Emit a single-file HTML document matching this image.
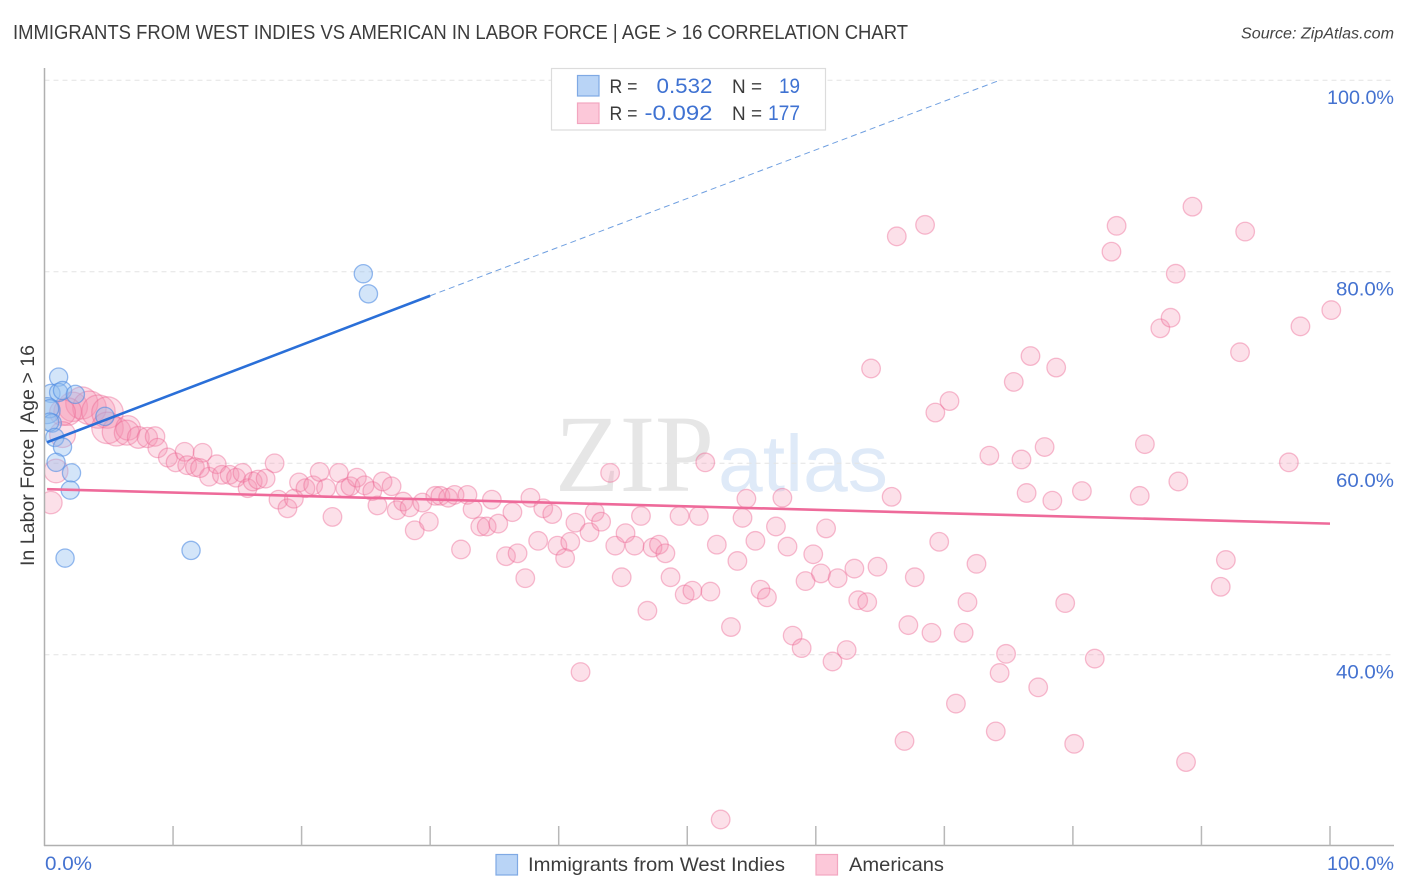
<!DOCTYPE html>
<html lang="en">
<head>
<meta charset="utf-8">
<title>Immigrants from West Indies vs American In Labor Force | Age &gt; 16 Correlation Chart</title>
<style>
  html, body { margin: 0; padding: 0; background: #fff; }
  #chart { display: block; font-family: "Liberation Sans", sans-serif; }
</style>
</head>
<body>
<svg id="chart" width="1406" height="892" viewBox="0 0 1406 892" xmlns="http://www.w3.org/2000/svg">
  <defs>
    <clipPath id="plot-clip"><rect x="45" y="60" width="1349" height="785"></rect></clipPath>
  </defs>
  <rect x="0" y="0" width="1406" height="892" fill="#ffffff"></rect>

  <text x="13" y="39" font-size="20" fill="#3c3c3c" textLength="895" lengthAdjust="spacingAndGlyphs">IMMIGRANTS FROM WEST INDIES VS AMERICAN IN LABOR FORCE | AGE &gt; 16 CORRELATION CHART</text>
  <text x="1394" y="38.5" font-size="15.5" font-style="italic" fill="#444444" text-anchor="end" textLength="153" lengthAdjust="spacingAndGlyphs">Source: ZipAtlas.com</text>

  <g>
    <text x="555" y="491" font-family="'Liberation Serif', serif" font-size="110" fill="#e6e6e6" textLength="159" lengthAdjust="spacingAndGlyphs">ZIP</text>
    <text x="718" y="491" font-size="80" fill="#dfeaf8" textLength="170" lengthAdjust="spacingAndGlyphs">atlas</text>
  </g>

  <g id="grid"></g>
  <g id="marks" clip-path="url(#plot-clip)"></g>
  <g id="trends" clip-path="url(#plot-clip)"></g>

  <line x1="44.5" y1="68" x2="44.5" y2="846" stroke="#b0b0b0" stroke-width="1.5"></line>
  <line x1="44" y1="845.5" x2="1394" y2="845.5" stroke="#b0b0b0" stroke-width="1.5"></line>
  <g id="xticks"></g>
  <g id="ylabels"></g>

  <text x="45" y="870" font-size="19.5" fill="#4472d0" textLength="47" lengthAdjust="spacingAndGlyphs">0.0%</text>
  <text x="1394" y="870" font-size="19.5" fill="#4472d0" text-anchor="end" textLength="67" lengthAdjust="spacingAndGlyphs">100.0%</text>

  <text transform="translate(34,566) rotate(-90)" font-size="19.5" fill="#3c3c3c" textLength="221" lengthAdjust="spacingAndGlyphs">In Labor Force | Age &gt; 16</text>

  <g>
    <rect x="551.5" y="68.5" width="274" height="61.5" fill="#ffffff" stroke="#dcdcdc" stroke-width="1.2"></rect>
    <rect x="577.5" y="75.5" width="21.5" height="20.5" fill="#b9d4f6" stroke="#7fa9e4" stroke-width="1.2"></rect>
    <rect x="577.5" y="103" width="21.5" height="20.5" fill="#fcc8d9" stroke="#f2a6c0" stroke-width="1.2"></rect>
    <text x="609.5" y="93" font-size="19.5" fill="#3c3c3c" textLength="28" lengthAdjust="spacingAndGlyphs">R =</text>
    <text x="712.5" y="93" font-size="21" fill="#3f72d2" text-anchor="end" textLength="56" lengthAdjust="spacingAndGlyphs">0.532</text>
    <text x="732" y="93" font-size="19.5" fill="#3c3c3c" textLength="30" lengthAdjust="spacingAndGlyphs">N =</text>
    <text x="800" y="93" font-size="21" fill="#3f72d2" text-anchor="end" textLength="21" lengthAdjust="spacingAndGlyphs">19</text>
    <text x="609.5" y="120" font-size="19.5" fill="#3c3c3c" textLength="28" lengthAdjust="spacingAndGlyphs">R =</text>
    <text x="712.5" y="120" font-size="21" fill="#3f72d2" text-anchor="end" textLength="68" lengthAdjust="spacingAndGlyphs">-0.092</text>
    <text x="732" y="120" font-size="19.5" fill="#3c3c3c" textLength="30" lengthAdjust="spacingAndGlyphs">N =</text>
    <text x="800" y="120" font-size="21" fill="#3f72d2" text-anchor="end" textLength="32" lengthAdjust="spacingAndGlyphs">177</text>
  </g>

  <g>
    <rect x="496" y="854.5" width="21.5" height="20.5" fill="#b9d4f6" stroke="#7fa9e4" stroke-width="1.2"></rect>
    <text x="528" y="871" font-size="19.5" fill="#3c3c3c" textLength="257" lengthAdjust="spacingAndGlyphs">Immigrants from West Indies</text>
    <rect x="816" y="854.5" width="21.5" height="20.5" fill="#fcc8d9" stroke="#f2a6c0" stroke-width="1.2"></rect>
    <text x="849" y="871" font-size="19.5" fill="#3c3c3c" textLength="95" lengthAdjust="spacingAndGlyphs">Americans</text>
  </g>
</svg>

<script>
const xTickValues = [10, 20, 30, 40, 50, 60, 70, 80, 90, 100];
const yTickValues = [100, 80, 60, 40];
const yTickLabels = ["100.0%", "80.0%", "60.0%", "40.0%"];

const blueX = [1.1, 0.5, 1.1, 1.4, 0.2, 0.4, 0.6, 0.4, 0.8, 1.4, 0.9, 2.1, 2.0, 1.6, 11.4, 2.4, 4.7, 24.8, 25.2];
const blueY = [69.0, 67.3, 67.4, 67.6, 65.5, 65.7, 64.2, 64.3, 62.7, 61.7, 60.1, 59.0, 57.2, 50.1, 50.9, 67.2, 64.9, 79.8, 77.7];

const pinkX = [2.2, 2.9, 3.5, 4.2, 1.8, 1.4, 4.9, 4.9, 5.6, 6.5, 6.4, 7.3, 8.0, 8.6, 8.8, 9.6, 10.2, 10.9, 11.1, 11.7,
  12.3, 12.8, 13.4, 13.8, 14.4, 14.9, 15.4, 15.8, 16.2, 16.6, 17.2, 17.9, 18.2, 18.9, 19.4, 19.8, 20.3, 20.9, 21.4, 21.9,
  22.4, 22.9, 23.4, 23.8, 24.3, 24.9, 25.5, 25.9, 26.3, 27.0, 27.4, 27.9, 28.4, 29.4, 28.8, 29.9, 30.4, 30.8, 31.4, 31.9,
  32.9, 33.3, 34.8, 32.4, 33.9, 34.4, 35.3, 36.4, 37.8, 38.8, 39.5, 38.4, 35.9, 36.8, 37.4, 39.9, 40.9, 40.5, 41.3, 42.4,
  42.8, 43.3, 44.0, 44.4, 45.2, 45.9, 44.9, 46.4, 49.4, 50.9, 51.4, 54.6, 57.4, 54.3, 65.9, 47.3, 47.8, 48.3, 48.7, 52.3,
  55.3, 56.9, 57.8, 60.8, 53.9, 59.8, 59.2, 60.4, 61.7, 63.0, 64.8, 55.7, 56.2, 49.8, 50.4, 51.8, 46.9, 53.4, 63.3, 64.0,
  58.2, 58.9, 61.3, 62.4, 67.2, 69.0, 71.5, 67.7, 72.5, 69.6, 71.8, 74.8, 74.3, 77.3, 70.9, 74.0, 66.9, 80.1, 88.8, 52.6,
  41.7, 81.7, 79.4, 91.5, 91.9, 88.2, 85.2, 96.8, 80.7, 78.4, 76.4, 76.0, 77.8, 73.5, 85.6, 69.3, 70.4, 64.3, 75.4, 76.7,
  78.7, 93.0, 86.8, 87.6, 97.7, 100.1, 88.0, 83.0, 83.4, 89.3, 93.4, 66.3, 68.5, 0.9, 0.5, 1.4, 12.1];
const pinkY = [65.9, 66.3, 65.8, 65.4, 65.4, 65.3, 65.3, 63.7, 63.3, 63.7, 63.2, 62.7, 62.7, 62.8, 61.6, 60.6, 60.1, 61.2, 59.8, 59.6,
  61.1, 58.6, 59.9, 58.8, 58.8, 58.5, 59.0, 57.4, 58.1, 58.3, 58.4, 60.0, 56.2, 55.3, 56.3, 58.0, 57.4, 57.7, 59.1, 57.4,
  54.4, 59.0, 57.4, 57.6, 58.5, 57.7, 57.1, 55.6, 58.1, 57.6, 55.1, 56.0, 55.4, 55.9, 53.0, 53.9, 56.6, 56.6, 56.4, 56.7,
  56.7, 55.2, 56.2, 51.0, 53.4, 53.4, 53.7, 54.9, 56.4, 55.3, 54.7, 51.9, 50.3, 50.6, 48.0, 51.4, 51.8, 50.1, 53.8, 52.8,
  54.9, 53.9, 59.0, 51.4, 52.7, 51.4, 48.1, 54.5, 54.5, 54.5, 60.1, 56.3, 56.4, 54.3, 56.5, 51.2, 51.5, 50.6, 48.1, 51.5,
  51.9, 53.4, 51.3, 53.2, 49.8, 50.5, 47.7, 48.5, 48.0, 49.0, 49.2, 46.8, 46.0, 46.3, 46.7, 46.6, 44.6, 42.9, 45.7, 45.5,
  42.0, 40.7, 39.3, 40.5, 43.1, 42.3, 42.3, 48.1, 49.5, 51.8, 45.5, 40.1, 38.1, 36.6, 34.9, 32.0, 31.0, 30.7, 28.8, 22.8,
  38.2, 39.6, 45.4, 47.1, 49.9, 58.1, 56.6, 60.1, 57.1, 56.1, 56.9, 60.4, 61.7, 60.8, 62.0, 65.3, 66.5, 69.9, 68.5, 71.2,
  70.0, 71.6, 74.1, 75.2, 74.3, 76.0, 79.8, 82.1, 84.8, 86.8, 84.2, 83.7, 84.9, 59.2, 55.9, 63.0, 59.5];

const blueTrendX = [0.2, 30];
const blueTrendY = [62.2, 77.5];
const blueForecastX = [30, 74.3];
const blueForecastY = [77.5, 100];
const pinkTrendX = [0.2, 100];
const pinkTrendY = [57.3, 53.7];

const SVG_NS = "http://www.w3.org/2000/svg";
function xScale(v) { return 44.5 + v * 12.855; }
function yScale(v) { return 654.8 - (v - 40) * 9.575; }
function make(tag, attrs) {
  const el = document.createElementNS(SVG_NS, tag);
  Object.keys(attrs).forEach(function (k) { el.setAttribute(k, attrs[k]); });
  return el;
}
function pinkRadius(x) { const t = (x - 3.8) / 2.8; return 9.3 + 7.5 * Math.exp(-t * t); }
function blueRadius(x) { return x < 0.3 ? 13 : 9.1; }
function labelWidth(text) { return text.length === 6 ? 67 : 58; }

const gridLayer = document.getElementById("grid");
yTickValues.forEach(function (v) {
  const el = make("line", { x1: 44.5, x2: 1394, y1: yScale(v), y2: yScale(v), stroke: "#e4e4e4", "stroke-width": 1, "stroke-dasharray": "5 4" });
  
  
  gridLayer.appendChild(el);
});

const tickLayer = document.getElementById("xticks");
xTickValues.forEach(function (v) {
  const el = make("line", { x1: xScale(v), x2: xScale(v), y1: 826, y2: 845.5, stroke: "#b8b8b8", "stroke-width": 1.5 });
  
  
  tickLayer.appendChild(el);
});

const labelLayer = document.getElementById("ylabels");
yTickValues.forEach(function (v, i) {
  const el = make("text", { x: 1394, y: yScale(v) + 23.5, "font-size": 19.5, fill: "#4472d0", "text-anchor": "end", textLength: labelWidth(yTickLabels[i]), lengthAdjust: "spacingAndGlyphs" });
  
  
  el.textContent = yTickLabels[i];
  labelLayer.appendChild(el);
});

const markLayer = document.getElementById("marks");
pinkX.forEach(function (x, i) {
  const el = make("circle", { cx: xScale(x), cy: yScale(pinkY[i]), r: pinkRadius(x), fill: "rgba(244,143,177,0.28)", stroke: "rgba(236,100,146,0.42)", "stroke-width": 1.3 });
  
  
  markLayer.appendChild(el);
});
blueX.forEach(function (x, i) {
  const el = make("circle", { cx: xScale(x), cy: yScale(blueY[i]), r: blueRadius(x), fill: "rgba(144,189,240,0.4)", stroke: "rgba(80,140,226,0.6)", "stroke-width": 1.3 });
  
  
  markLayer.appendChild(el);
});

const trendLayer = document.getElementById("trends");
const forecast = make("line", { x1: xScale(blueForecastX[0]), y1: yScale(blueForecastY[0]), x2: xScale(blueForecastX[1]), y2: yScale(blueForecastY[1]), stroke: "#6f9fe0", "stroke-width": 1, "stroke-dasharray": "6 4" });


trendLayer.appendChild(forecast);
const blueTrend = make("line", { x1: xScale(blueTrendX[0]), y1: yScale(blueTrendY[0]), x2: xScale(blueTrendX[1]), y2: yScale(blueTrendY[1]), stroke: "#2a6fd8", "stroke-width": 2.6 });


trendLayer.appendChild(blueTrend);
const pinkTrend = make("line", { x1: xScale(pinkTrendX[0]), y1: yScale(pinkTrendY[0]), x2: xScale(pinkTrendX[1]), y2: yScale(pinkTrendY[1]), stroke: "#ee6a9a", "stroke-width": 2.6 });


trendLayer.appendChild(pinkTrend);
</script>
</body>
</html>
